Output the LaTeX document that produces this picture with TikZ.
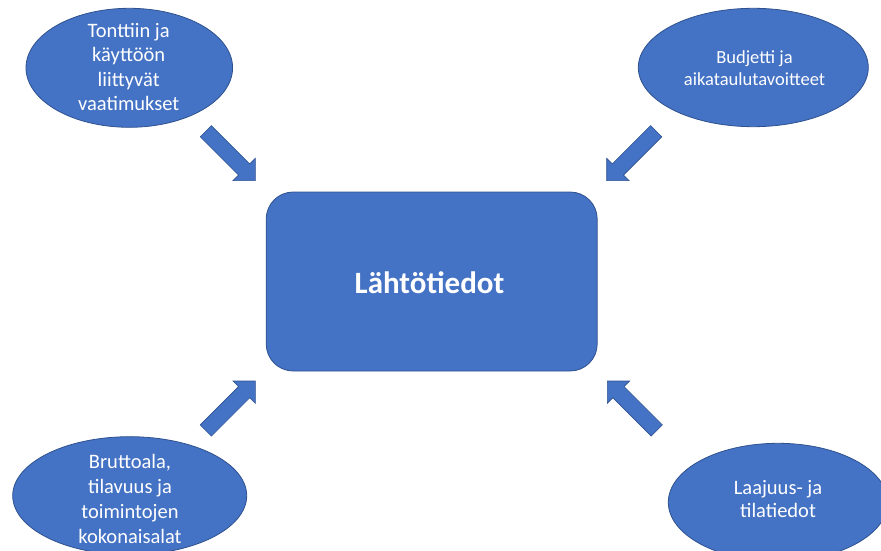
\documentclass[tikz,border=0pt]{standalone}
\usepackage{fontspec}
\setmainfont{Carlito}
\usetikzlibrary{shapes.geometric}
\definecolor{offblue}{HTML}{4472C4}
\definecolor{offedge}{HTML}{2F528F}
\tikzset{
  ell/.style={ellipse, fill=offblue, draw=offedge, line width=0.8pt, inner sep=0pt},
  etext/.style={text=white, align=center, inner sep=0pt, font=\fontsize{20.5}{24.5}\selectfont},
  mainbox/.style={rectangle, rounded corners=27pt, fill=offblue, draw=offedge, line width=0.8pt,
    minimum width=331pt, minimum height=179pt, inner sep=0pt},
  blockarrow/.pic={
    \path[fill=offblue, draw=offedge, line width=0.6pt, line join=miter]
      (0,-7.9) -- (54.2,-7.9) -- (54.2,-15.8) -- (70,0) -- (54.2,15.8) -- (54.2,7.9) -- (0,7.9) -- cycle;
  }
}
\begin{document}
\begin{tikzpicture}[x=1pt, y=-1pt]
\useasboundingbox (0,0) rectangle (881,551);
\clip (0,0) rectangle (881,551);

% central box
\node[mainbox] (main) at (431.7,281.5) {};
\node[text=white, inner sep=0pt, anchor=base, font=\fontsize{31}{36}\selectfont\bfseries] (maintext) at (429.5,293.3) {Lähtötiedot};

% ellipses
\node[ell, minimum width=206.6pt, minimum height=119pt] (e1) at (129.3,67.8) {};
\node[etext] (t1) at (128.7,67) {Tonttiin ja\\käyttöön\\liittyvät\\vaatimukset};

\node[ell, minimum width=230pt, minimum height=118.4pt] (e2) at (753.3,67.5) {};
\node[etext, font=\fontsize{18.5}{22.5}\selectfont] (t2) at (754.5,68) {Budjetti ja\\aikataulutavoitteet};

\node[ell, minimum width=234pt, minimum height=118pt] (e3) at (129.7,495.7) {};
\node[etext, font=\fontsize{20.5}{25}\selectfont] (t3) at (130,499) {Bruttoala,\\tilavuus ja\\toimintojen\\kokonaisalat};

\node[ell, minimum width=219.4pt, minimum height=118pt] (e4) at (778,502.3) {};
\node[etext, font=\fontsize{20.5}{23.5}\selectfont] (t4) at (778,499) {Laajuus- ja\\tilatiedot};

% block arrows
\pic[rotate=-45] (a1) at (205.8,131.2) {blockarrow};
\pic[rotate=-135] (a2) at (656.2,131.2) {blockarrow};
\pic[rotate=45] (a3) at (205.8,430.5) {blockarrow};
\pic[rotate=135] (a4) at (656.8,430.5) {blockarrow};
\end{tikzpicture}
\end{document}
